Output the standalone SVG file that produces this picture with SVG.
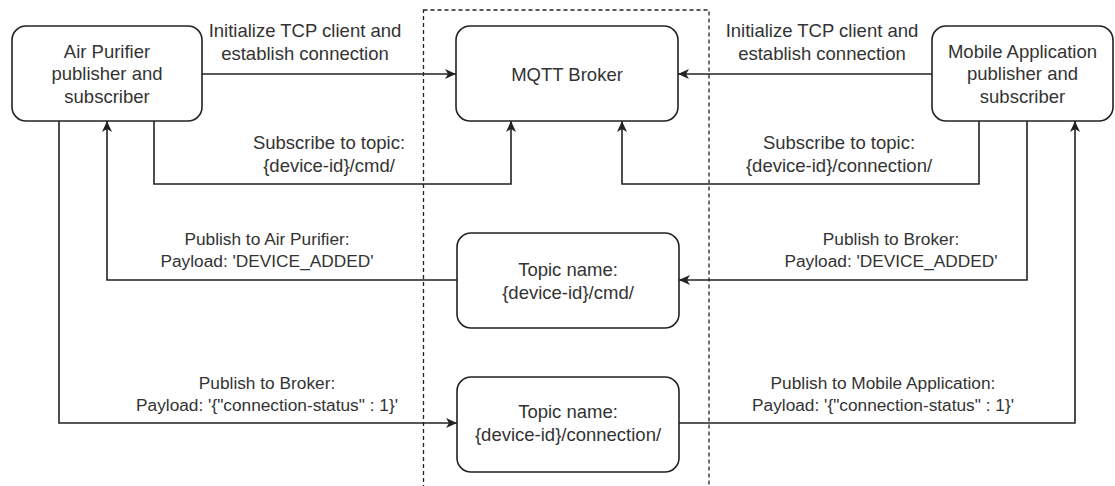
<svg xmlns="http://www.w3.org/2000/svg" width="1115" height="486" viewBox="0 0 1115 486">
  <style>
    .box { fill: #ffffff; stroke: #222222; stroke-width: 1.6; }
    .frame { fill: none; stroke: #222222; stroke-width: 1.3; stroke-dasharray: 4 3; }
    .edge { fill: none; stroke: #222222; stroke-width: 1.6; marker-end: url(#arrow); }
    .edge-plain { fill: none; stroke: #222222; stroke-width: 1.6; }
    text { font-family: "Liberation Sans", Arial, sans-serif; fill: #333333; text-anchor: middle; }
    .node-text { font-size: 18.5px; }
    .lbl { font-size: 18.5px; }
    .lbl-sm { font-size: 17.3px; }
  </style>
  <defs>
    <marker id="arrow" markerUnits="userSpaceOnUse" markerWidth="12" markerHeight="10" refX="11" refY="5" orient="auto">
      <path d="M0,0 L11,5 L0,10 L3,5 Z" fill="#222222"/>
    </marker>
  </defs>

  <rect width="1115" height="486" fill="#ffffff"/>

  <!-- broker boundary -->
  <rect class="frame" x="423.5" y="10" width="285.5" height="500"/>

  <!-- connectors -->
  <g id="connectors">
    <path class="edge" d="M202,74 H456"/>
    <path class="edge" d="M932,74 H678"/>
    <path class="edge" d="M154,121 V184 H511 V121"/>
    <path class="edge" d="M979,121 V184 H622 V121"/>
    <path class="edge" d="M457,280 H107 V121"/>
    <path class="edge" d="M1027,121 V280 H679"/>
    <path class="edge" d="M59,121 V423 H457"/>
    <path class="edge" d="M679,423 H1075 V121"/>

    <text class="lbl" x="305" y="37">Initialize TCP client and</text>
    <text class="lbl" x="305" y="60">establish connection</text>
    <text class="lbl" x="822" y="37">Initialize TCP client and</text>
    <text class="lbl" x="822" y="60">establish connection</text>
    <text class="lbl" x="329" y="149">Subscribe to topic:</text>
    <text class="lbl" x="329" y="172">{device-id}/cmd/</text>
    <text class="lbl" x="839" y="149">Subscribe to topic:</text>
    <text class="lbl" x="839" y="172">{device-id}/connection/</text>
    <text class="lbl-sm" x="267" y="245">Publish to Air Purifier:</text>
    <text class="lbl-sm" x="267" y="267">Payload: 'DEVICE_ADDED'</text>
    <text class="lbl-sm" x="891" y="245">Publish to Broker:</text>
    <text class="lbl-sm" x="891" y="267">Payload: 'DEVICE_ADDED'</text>
    <text class="lbl-sm" x="267" y="389">Publish to Broker:</text>
    <text class="lbl-sm" x="267" y="411">Payload: '{"connection-status" : 1}'</text>
    <text class="lbl-sm" x="883" y="389">Publish to Mobile Application:</text>
    <text class="lbl-sm" x="883" y="411">Payload: '{"connection-status" : 1}'</text>
  </g>

  <g id="air-purifier">
    <rect class="box" x="12" y="26" width="190" height="95" rx="14"/>
    <text class="node-text" x="107" y="57.5">Air Purifier</text>
    <text class="node-text" x="107" y="80">publisher and</text>
    <text class="node-text" x="107" y="102.5">subscriber</text>
  </g>

  <g id="mqtt-broker">
    <rect class="box" x="456" y="26" width="222" height="95" rx="14"/>
    <text class="node-text" x="567" y="80.5">MQTT Broker</text>
  </g>

  <g id="mobile-app">
    <rect class="box" x="932" y="26" width="181" height="95" rx="14"/>
    <text class="node-text" x="1022.5" y="57.5">Mobile Application</text>
    <text class="node-text" x="1022.5" y="80">publisher and</text>
    <text class="node-text" x="1022.5" y="102.5">subscriber</text>
  </g>

  <g id="topic-cmd">
    <rect class="box" x="457" y="233" width="222" height="95" rx="14"/>
    <text class="node-text" x="568" y="276">Topic name:</text>
    <text class="node-text" x="568" y="299">{device-id}/cmd/</text>
  </g>

  <g id="topic-connection">
    <rect class="box" x="457" y="377" width="222" height="95" rx="14"/>
    <text class="node-text" x="568" y="418">Topic name:</text>
    <text class="node-text" x="568" y="441">{device-id}/connection/</text>
  </g>
</svg>
